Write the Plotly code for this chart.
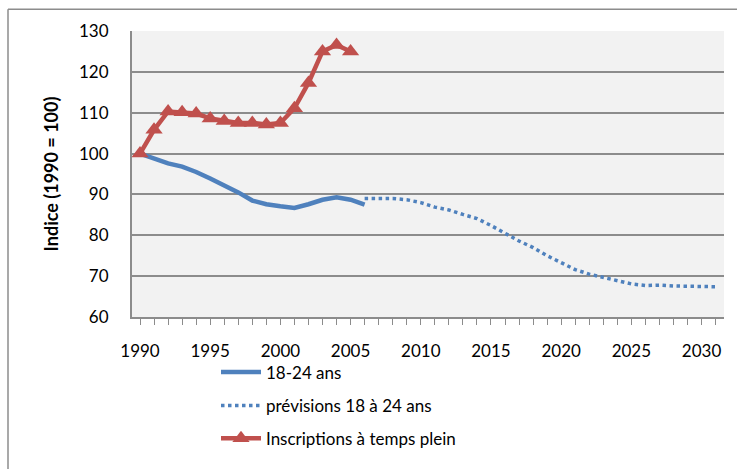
import plotly.graph_objects as go

years_hist = list(range(1990, 2007))
pop_18_24 = [100, 98.8, 97.6, 96.8, 95.5, 93.9, 92.3, 90.5, 88.5, 87.6, 87.1, 86.7,
             87.6, 88.7, 89.3, 88.7, 87.5]

years_fc = list(range(2006, 2032))
prev_18_24 = [89.0, 89.0, 89.0, 88.7, 88.0, 86.9, 86.2, 85.1, 84.1, 82.4, 80.5, 78.6,
              77.0, 75.0, 73.3, 71.6, 70.5, 69.7, 68.9, 68.1, 67.7, 67.8, 67.6, 67.5,
              67.4, 67.4]

years_insc = list(range(1990, 2006))
inscriptions = [100, 105.8, 110.3, 110.1, 109.8, 108.6, 108.0, 107.5, 107.5, 107.1,
                107.5, 111.1, 117.3, 125.0, 126.6, 125.0]

y_ticks = [60, 70, 80, 90, 100, 110, 120, 130]
x_ticks = [1990, 1995, 2000, 2005, 2010, 2015, 2020, 2025, 2030]

FONT = "Lato"
BLUE = "#4f81bd"
RED = "#c0504d"
GRID = "#8c8c8c"

fig = go.Figure()
fig.add_trace(go.Scatter(x=years_hist, y=pop_18_24, mode="lines", name="18-24 ans",
                         line=dict(color=BLUE, width=4.5), legend="legend", showlegend=True))
fig.add_trace(go.Scatter(x=years_fc, y=prev_18_24, mode="lines", name="prévisions 18 à 24 ans",
                         line=dict(color=BLUE, width=3.5, dash="dot"), legend="legend2",
                         showlegend=True))
fig.add_trace(go.Scatter(x=years_insc, y=inscriptions, mode="lines+markers",
                         name="Inscriptions à temps plein",
                         line=dict(color=RED, width=4.5),
                         marker=dict(symbol="triangle-up", size=15, color=RED),
                         legend="legend3", showlegend=True))

W, H = 737, 469
L, R, T, B = 132, 13, 31, 149
pw, ph = W - L - R, H - T - B

def px(xp):
    return (xp - L) / pw

def py(yp):
    return (H - B - yp) / ph

legend_common = dict(font=dict(family=FONT, size=17, color="#000000"),
                     bgcolor="rgba(0,0,0,0)", borderwidth=0, visible=True,
                     xanchor="left", yanchor="middle", itemwidth=40)

fig.update_layout(
    width=W, height=H,
    showlegend=True,
    margin=dict(l=L, r=R, t=T, b=B, pad=0),
    paper_bgcolor="white",
    plot_bgcolor="#f2f2f2",
    font=dict(family=FONT, size=17, color="#000000"),
    legend=dict(x=px(216), y=py(376), **legend_common),
    legend2=dict(x=px(216), y=py(410), **legend_common),
    legend3=dict(x=px(216), y=py(443), **legend_common),
    xaxis=dict(range=[1989.43, 2031.6], tickvals=x_ticks, ticktext=[str(v) for v in x_ticks],
               showgrid=False, zeroline=False, showline=True, linecolor=GRID, linewidth=2,
               ticks="outside", ticklen=6, tickcolor=GRID, tickwidth=1,
               minor=dict(dtick=1, tick0=1990, ticks="outside", ticklen=6, tickcolor=GRID, tickwidth=1,
                          showgrid=False),
               ticklabelstandoff=12,
               tickfont=dict(family=FONT, size=17)),
    yaxis=dict(range=[60, 130], tickvals=y_ticks, showgrid=True, gridcolor=GRID, gridwidth=1.5,
               zeroline=False, showline=True, linecolor=GRID, linewidth=2, ticks="",
               ticklabelstandoff=18,
               tickfont=dict(family=FONT, size=17),
               title=dict(text="<b>Indice (1990 = 100)</b>", font=dict(family=FONT, size=18),
                          standoff=16)),
    shapes=[
        dict(type="line", xref="paper", yref="paper", x0=px(8), x1=px(8), y0=py(9), y1=py(H + 5),
             line=dict(color="#8c8c8c", width=1.5)),
        dict(type="line", xref="paper", yref="paper", x0=px(8), x1=px(W + 5), y0=py(9), y1=py(9),
             line=dict(color="#8c8c8c", width=1.5)),
    ],
)

fig.write_html("out.html")
